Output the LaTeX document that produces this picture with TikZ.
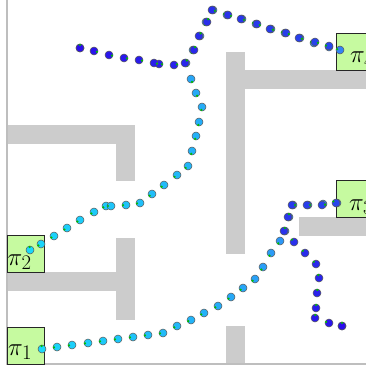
\documentclass[tikz,border=0pt]{standalone}
\usetikzlibrary{calc}
\definecolor{wallgray}{RGB}{204,204,204}
\definecolor{axisgray}{RGB}{190,190,190}
\definecolor{goalgreen}{RGB}{198,250,160}
\definecolor{tipgreen}{RGB}{0,190,0}
\definecolor{startcyan}{RGB}{25,215,250}
\definecolor{midblue}{RGB}{50,130,245}
\definecolor{lateblue}{RGB}{40,70,235}
\definecolor{endblue}{RGB}{42,14,235}
% n, first colour, last colour, start point, list of points
\newcommand{\waypoints}[5]{
  \foreach \px/\py [count=\i, remember=\px as \lx (initially #4), remember=\py as \ly] in {#5} {
    \pgfmathtruncatemacro{\pct}{100-100*(\i-1)/(#1-1)}
    \fill[wpoint={#2!\pct!#3}, draw=black!65] (\px,\py) circle (4);
    \fill[tipgreen] ($(\px,\py)!3pt!(\lx,\ly)$) circle (1.2);
  }
}
\begin{document}
\begin{tikzpicture}[
  x=1pt, y=-1pt,
  wall/.style={fill=wallgray, draw=none},
  axisline/.style={axisgray, line width=1.6pt},
  goal/.style={rectangle, draw=black!85, fill=goalgreen, minimum size=37pt, inner sep=0pt, line width=0.7pt},
  goaltext/.style={anchor=base west, inner sep=0pt, font=\fontsize{30}{30}\selectfont},
  wpoint/.style={fill=#1, line width=0.5pt}
]
\clip (0,0) rectangle (366,369);
\fill[white] (0,0) rectangle (366,369);
% walls
\fill[wall] (7,125) rectangle (135,144);
\fill[wall] (116,125) rectangle (135,181);
\fill[wall] (7,272) rectangle (116,291);
\fill[wall] (116,238) rectangle (135,320);
\fill[wall] (226,52) rectangle (245,254);
\fill[wall] (245,70) rectangle (366,89);
\fill[wall] (226,326) rectangle (245,364);
\fill[wall] (299,217) rectangle (366,236);
\draw[axisline] (6.8,0) -- (6.8,364) -- (366,364);
% goals
\node[goal] (g1) at (25.5,345.5) {};
\node[goal] (g2) at (25.5,253.5) {};
\node[goal] (g3) at (354.5,198.5) {};
\node[goal] (g4) at (354.5,52) {};
\node[goaltext] (t1) at (8,355) {$\pi_1$};
\node[goaltext] (t2) at (7.5,265) {$\pi_2$};
\node[goaltext] (t3) at (349,210) {$\pi_3$};
\node[goaltext] (t4) at (350,63) {$\pi_4$};
% first robot
\waypoints{25}{startcyan}{midblue}{30/353}{
  42/349,57/347,72/345,88/343,103/341,118/339,133/337,148/335,163/333,177/326,
  191/320,204/313,218/306,231/297,243/288,255/279,263/267,271/253,280/241,285/231,
  289/217,293/205,308/205,323/204,337/203}
\waypoints{16}{lateblue}{endblue}{342/203}{
  336/203,322/205,307/205,292/205,288/217,284/231,294/242,305/253,316/264,319/278,
  317/293,316/308,315/318,329/323,342/326,342/326}
% second robot
\waypoints{34}{startcyan}{midblue}{20/255}{
  30/250,41/244,54/236,67/228,80/220,94/212,106/206,111/206,126/205,140/203,
  152/194,164/185,177/175,188/166,192/151,196/136,199/122,202/107,196/93,191/79,
  186/63,193/50,200/36,206/22,213/10,227/15,242/19,256/24,271/29,285/33,
  300/38,314/43,329/47,340/50}
\waypoints{22}{lateblue}{endblue}{345/52}{
  329/46,315/42,299/38,286/33,270/29,257/24,241/19,228/15,212/10,207/22,
  199/36,194/50,185/63,174/65,159/64,154/63,139/60,124/58,109/55,94/51,80/48,80/48}
\end{tikzpicture}
\end{document}
